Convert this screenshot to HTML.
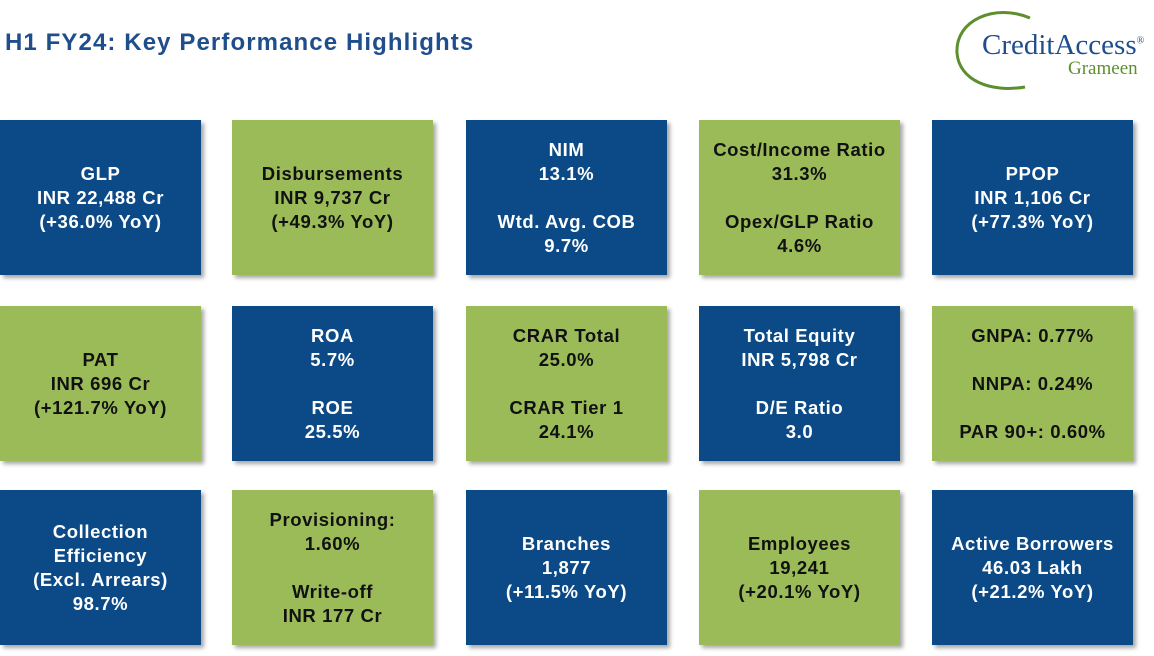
<!DOCTYPE html>
<html><head><meta charset="utf-8"><style>
body{margin:0;width:1154px;height:656px;background:#fff;position:relative;overflow:hidden;font-family:"Liberation Sans",sans-serif}
.t{position:absolute;width:201px;height:155px;display:flex;align-items:center;justify-content:center;text-align:center;color:#fff;font-weight:bold;font-size:18.5px;line-height:24px;letter-spacing:0.6px;box-shadow:3px 3px 4px rgba(0,0,0,0.35)}
.b{background:#0B4A86}.g{background:#9BBB59;color:#111}
h1{position:absolute;left:5px;top:29px;margin:0;font-size:24px;letter-spacing:1.1px;color:#1F4E8C;font-weight:bold}
</style></head><body>
<h1>H1 FY24: Key Performance Highlights</h1>
<div style="position:absolute;left:950px;top:5px;width:204px;height:85px">
<svg width="200" height="85" style="position:absolute;left:0;top:0"><path d="M80 13 C45 -2 5 15 7 48 C9 75 40 88 75 82" fill="none" stroke="#5E8F2E" stroke-width="3"/></svg>
<div style="position:absolute;left:32px;top:24px;font-family:'Liberation Serif',serif;font-size:29px;color:#1F4E8C">CreditAccess<sup style="font-size:10px">®</sup></div>
<div style="position:absolute;left:118px;top:53px;font-family:'Liberation Serif',serif;font-size:19px;color:#5E8F2E">Grameen</div>
</div>
<div class="t b" style="left:0;top:120px">GLP<br>INR 22,488 Cr<br>(+36.0% YoY)</div>
<div class="t g" style="left:232px;top:120px">Disbursements<br>INR 9,737 Cr<br>(+49.3% YoY)</div>
<div class="t b" style="left:466px;top:120px">NIM<br>13.1%<br><br>Wtd. Avg. COB<br>9.7%</div>
<div class="t g" style="left:699px;top:120px">Cost/Income Ratio<br>31.3%<br><br>Opex/GLP Ratio<br>4.6%</div>
<div class="t b" style="left:932px;top:120px">PPOP<br>INR 1,106 Cr<br>(+77.3% YoY)</div>
<div class="t g" style="left:0;top:306px">PAT<br>INR 696 Cr<br>(+121.7% YoY)</div>
<div class="t b" style="left:232px;top:306px">ROA<br>5.7%<br><br>ROE<br>25.5%</div>
<div class="t g" style="left:466px;top:306px">CRAR Total<br>25.0%<br><br>CRAR Tier 1<br>24.1%</div>
<div class="t b" style="left:699px;top:306px">Total Equity<br>INR 5,798 Cr<br><br>D/E Ratio<br>3.0</div>
<div class="t g" style="left:932px;top:306px">GNPA: 0.77%<br><br>NNPA: 0.24%<br><br>PAR 90+: 0.60%</div>
<div class="t b" style="left:0;top:490px">Collection<br>Efficiency<br>(Excl. Arrears)<br>98.7%</div>
<div class="t g" style="left:232px;top:490px">Provisioning:<br>1.60%<br><br>Write-off<br>INR 177 Cr</div>
<div class="t b" style="left:466px;top:490px">Branches<br>1,877<br>(+11.5% YoY)</div>
<div class="t g" style="left:699px;top:490px">Employees<br>19,241<br>(+20.1% YoY)</div>
<div class="t b" style="left:932px;top:490px">Active Borrowers<br>46.03 Lakh<br>(+21.2% YoY)</div>
</body></html>
